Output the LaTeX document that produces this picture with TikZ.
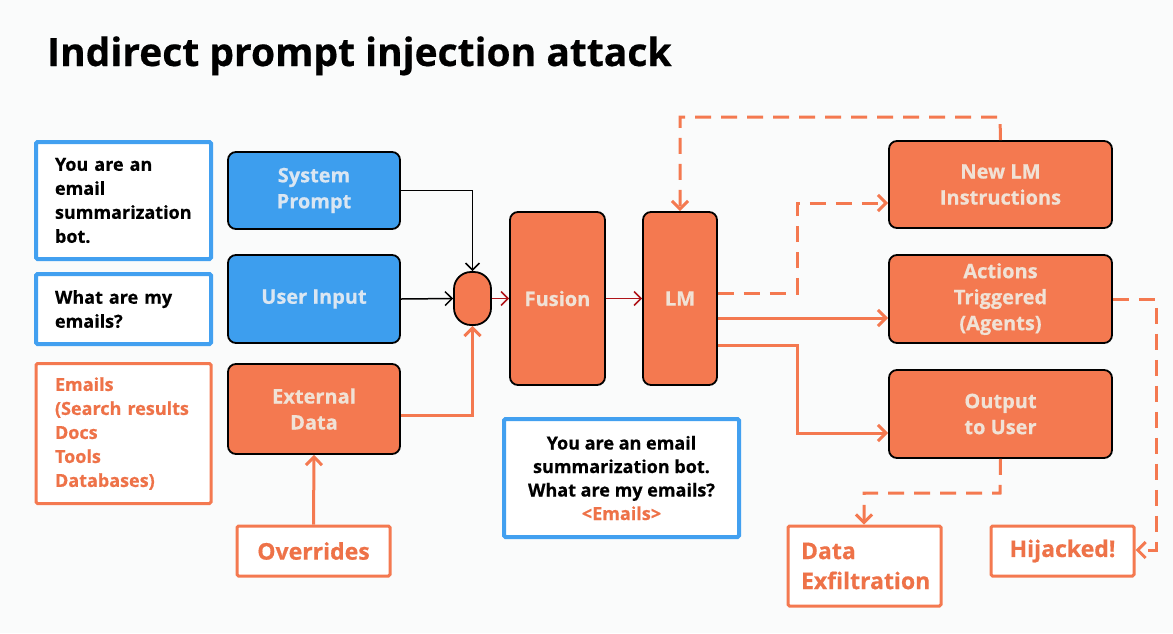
\documentclass[tikz,border=0pt]{standalone}
\usepackage{fontspec}
\setmainfont{Open Sans}[BoldFeatures={FakeBold=0.5}]
\usetikzlibrary{arrows.meta}
\definecolor{orng}{RGB}{244,121,80}
\definecolor{blu}{RGB}{61,158,238}
\definecolor{bluline}{RGB}{66,160,240}
\definecolor{otxt}{RGB}{238,114,72}
\definecolor{ftxt}{RGB}{240,226,214}
\definecolor{btxt}{RGB}{218,230,242}
\definecolor{dred}{RGB}{175,20,25}
\definecolor{bgc}{RGB}{250,251,251}
\begin{document}
\begin{tikzpicture}[x=1pt,y=-1pt,
  fillbox/.style={draw=black, line width=1.8pt, rounded corners=8pt, font=\bfseries\fontsize{20}{26}\selectfont, align=center, inner sep=0pt},
  orbox/.style={fillbox, fill=orng, text=ftxt},
  blbox/.style={fillbox, fill=blu, text=btxt},
  bluetext/.style={draw=bluline, line width=4pt, rounded corners=1.5pt, fill=white, text=black, font=\bfseries\fontsize{18}{24}\selectfont},
  orangetext/.style={draw=orng, line width=3pt, rounded corners=1.5pt, fill=white, text=otxt, font=\bfseries\fontsize{18}{24}\selectfont},
  bigotext/.style={draw=orng, line width=3pt, rounded corners=1.5pt, fill=white, text=otxt, font=\bfseries\fontsize{23}{30}\selectfont},
  blackarr/.style={draw=black, line width=1.5pt, -{Straight Barb[length=7pt,width=14pt,line width=1.5pt]}},
  redarr/.style={draw=dred, line width=1.5pt, -{Straight Barb[length=7pt,width=14pt,line width=1.5pt]}},
  oarr/.style={draw=orng, line width=3pt, -{Straight Barb[length=8pt,width=16pt,line width=3pt]}},
  odash/.style={oarr, dash pattern=on 16pt off 10pt},
]
\useasboundingbox (0,0) rectangle (1173,633);
\fill[bgc] (0,0) rectangle (1173,633);

% title
\node[anchor=base west, inner sep=0pt, font=\bfseries\fontsize{39}{46}\selectfont] (title) at (47,66) {Indirect prompt injection attack};

% left text boxes
\node[bluetext, minimum width=175pt, minimum height=117pt, text width=137pt, inner xsep=19pt, align=left] (t1) at (123.5,200.5) {You are an\\email\\summarization\\bot.};
\node[bluetext, minimum width=175pt, minimum height=70pt, text width=137pt, inner xsep=19pt, align=left] (t2) at (123.5,309) {What are my\\emails?};
\node[orangetext, minimum width=175pt, minimum height=140pt, text width=137pt, inner xsep=19pt, align=left] (t3) at (123.5,433.5) {Emails\\(Search results\\Docs\\Tools\\Databases)};

% input boxes
\node[blbox, minimum width=172pt, minimum height=77pt] (sys) at (314,190.5) {System\\Prompt};
\node[blbox, minimum width=172pt, minimum height=88pt] (usr) at (314,299) {User Input};
\node[orbox, minimum width=172pt, minimum height=90pt] (ext) at (314,409) {External\\Data};
\node[bigotext, minimum width=153pt, minimum height=50pt] (ovr) at (313.5,551) {Overrides};

% junction, fusion, LM
\node[orbox, minimum width=37pt, minimum height=53pt, rounded corners=17pt] (jn) at (472.5,298.5) {};
\node[orbox, minimum width=95pt, minimum height=173pt] (fus) at (557.5,298.5) {Fusion};
\node[orbox, minimum width=74pt, minimum height=173pt] (lm) at (680,298.5) {LM};

% middle prompt box
\node[bluetext, minimum width=235pt, minimum height=118pt, align=center, font=\bfseries\fontsize{18}{23.5}\selectfont] (mid) at (621.5,478) {You are an email\\summarization bot.\\What are my emails?\\{\color{otxt}<Emails>}};

% right boxes
\node[orbox, minimum width=223pt, minimum height=87pt] (nli) at (1000.5,184.5) {New LM\\Instructions};
\node[orbox, minimum width=223pt, minimum height=88pt] (act) at (1000.5,299) {Actions\\Triggered\\(Agents)};
\node[orbox, minimum width=223pt, minimum height=88pt] (out) at (1000.5,414) {Output\\to User};

\node[bigotext, minimum width=153pt, minimum height=80pt, text width=127pt, inner xsep=13pt, align=left] (dex) at (864.5,566) {Data\\Exfiltration};
\node[bigotext, minimum width=143pt, minimum height=50pt] (hij) at (1062.5,551) {Hijacked!};

% coordinates
\coordinate (c1) at (680,117);
\coordinate (c2) at (1000,117);
\coordinate (c3) at (797,293);
\coordinate (c4) at (797,203);
\coordinate (c5) at (797,345);
\coordinate (c6) at (797,433);
\coordinate (c7) at (1000,493);
\coordinate (c8) at (864,493);
\coordinate (c9) at (1156,299);
\coordinate (c10) at (1156,550);

% connectors left
\draw[blackarr] (sys.east) -| (jn.north);
\draw[blackarr] (usr.east) -- (jn.west);
\draw[oarr] ([yshift=-6pt]ext.east) -| (jn.south);
\draw[oarr] (ovr.north) -- (ext.south);
\draw[redarr] (jn.east) -- (fus.west);
\draw[redarr] (fus.east) -- (lm.west);

% connectors right
\draw[odash] (nli.north) -- (c2) -- (c1) -- (lm.north);
\draw[odash] (lm.east |- c3) -- (c3) -- (c4) -- (nli.west |- c4);
\draw[oarr] (lm.east |- 0,318) -- (act.west |- 0,318);
\draw[oarr] (lm.east |- c5) -- (c5) -- (c6) -- (out.west |- c6);
\draw[odash] (out.south) -- (c7) -- (c8) -- (dex.north -| c8);
\draw[odash] (act.east |- c9) -- (c9) -- (c10) -- (hij.east |- c10);
\end{tikzpicture}
\end{document}
